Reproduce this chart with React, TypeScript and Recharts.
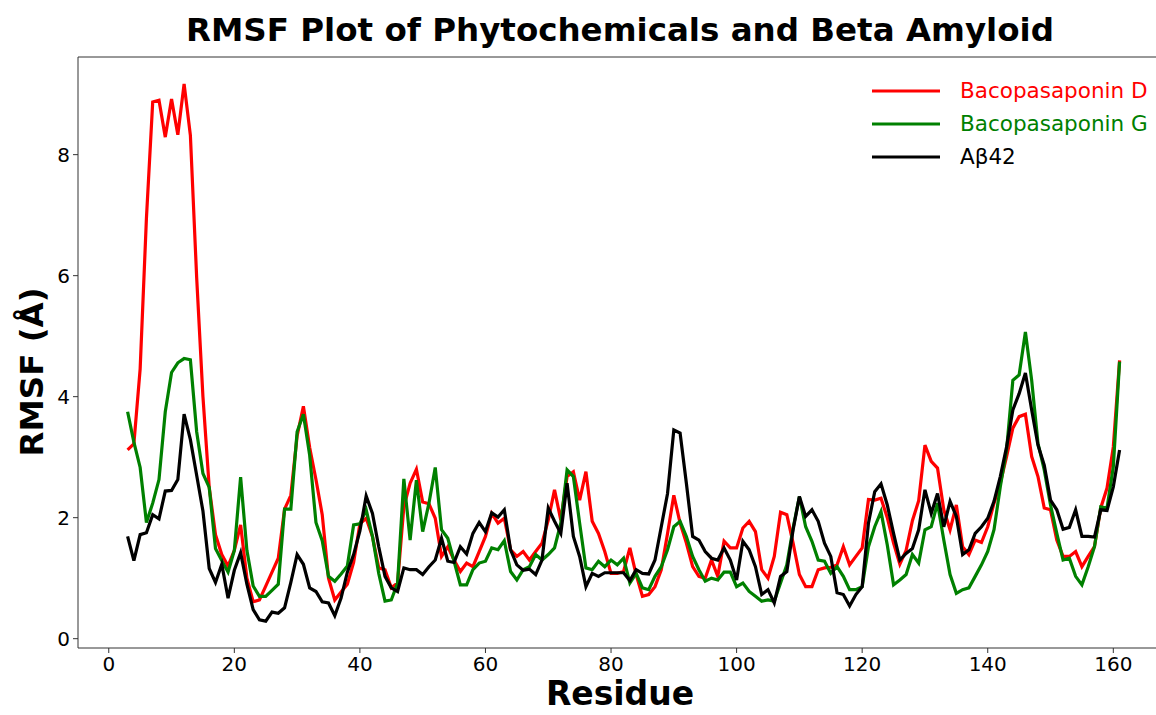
import { LineChart, Line, XAxis, YAxis } from 'recharts';

// residues 3..161
const residues = Array.from({ length: 159 }, (_, i) => 3 + i);

const bacopasaponinD = [
  3.12, 3.22, 4.46, 6.95, 8.87, 8.9, 8.29, 8.92, 8.33, 9.17,
  8.32, 5.97, 4.0, 2.5, 1.72, 1.39, 1.2, 1.46, 1.88, 1.0,
  0.61, 0.64, 0.87, 1.1, 1.33, 2.14, 2.37, 3.35, 3.84, 3.16,
  2.63, 2.05, 1.0, 0.64, 0.77, 0.9, 1.26, 1.9, 1.99, 1.69,
  1.17, 1.14, 0.84, 0.92, 2.18, 2.57, 2.8, 2.26, 2.23, 1.99,
  1.36, 1.52, 1.3, 1.11, 1.25, 1.19, 1.44, 1.69, 2.07, 1.91,
  1.99, 1.47, 1.36, 1.44, 1.3, 1.44, 1.58, 1.96, 2.46, 1.96,
  2.68, 2.76, 2.29, 2.76, 1.94, 1.74, 1.44, 1.08, 1.08, 1.11,
  1.5, 1.06, 0.7, 0.73, 0.86, 1.14, 1.74, 2.37, 1.91, 1.58,
  1.19, 1.03, 1.0, 1.3, 1.03, 1.61, 1.5, 1.5, 1.83, 1.94,
  1.77, 1.14, 1.0, 1.36, 2.09, 2.05, 1.58, 1.06, 0.86, 0.86,
  1.14, 1.17, 1.18, 1.22, 1.52, 1.22, 1.36, 1.5, 2.3, 2.29,
  2.32, 2.0, 1.58, 1.23, 1.46, 1.95, 2.28, 3.2, 2.93, 2.82,
  2.13, 1.8, 2.21, 1.52, 1.39, 1.63, 1.59, 1.85, 2.24, 2.57,
  3.01, 3.48, 3.67, 3.71, 3.01, 2.68, 2.16, 2.13, 1.63, 1.36,
  1.36, 1.44, 1.19, 1.36, 1.52, 2.16, 2.49, 3.17, 4.6,
];

const bacopasaponinG = [
  3.75, 3.25, 2.83, 1.92, 2.24, 2.63, 3.75, 4.4, 4.56, 4.63,
  4.61, 3.42, 2.73, 2.5, 1.49, 1.29, 1.1, 1.46, 2.67, 1.46,
  0.87, 0.7, 0.7, 0.8, 0.9, 2.14, 2.14, 3.42, 3.71, 3.03,
  1.92, 1.62, 1.03, 0.95, 1.07, 1.2, 1.88, 1.9, 2.13, 1.69,
  1.08, 0.62, 0.64, 0.92, 2.64, 1.63, 2.62, 1.77, 2.24, 2.83,
  1.8, 1.66, 1.28, 0.89, 0.89, 1.14, 1.25, 1.28, 1.5, 1.47,
  1.62, 1.11, 0.97, 1.14, 1.19, 1.39, 1.3, 1.39, 1.5, 1.91,
  2.79, 2.68, 1.91, 1.17, 1.14, 1.28, 1.19, 1.3, 1.22, 1.33,
  0.92, 1.08, 0.84, 0.81, 1.03, 1.19, 1.47, 1.85, 1.94, 1.69,
  1.36, 1.14, 0.95, 1.0, 0.97, 1.1, 1.1, 0.86, 0.92, 0.78,
  0.7, 0.62, 0.64, 0.62, 0.92, 1.22, 1.83, 2.35, 1.85, 1.61,
  1.3, 1.28, 1.08, 1.19, 1.03, 0.81, 0.81, 0.86, 1.52, 1.85,
  2.1, 1.55, 0.89, 0.97, 1.06, 1.39, 1.25, 1.8, 1.85, 2.24,
  1.63, 1.06, 0.75, 0.81, 0.84, 1.03, 1.22, 1.44, 1.8, 2.51,
  3.12, 4.27, 4.36, 5.07, 4.27, 3.23, 2.79, 2.21, 1.74, 1.3,
  1.33, 1.03, 0.89, 1.19, 1.52, 2.18, 2.16, 2.84, 4.58,
];

const abeta42 = [
  1.69, 1.29, 1.72, 1.75, 2.05, 1.98, 2.44, 2.45, 2.63, 3.71,
  3.29, 2.7, 2.11, 1.16, 0.93, 1.23, 0.67, 1.13, 1.42, 0.9,
  0.48, 0.31, 0.29, 0.44, 0.42, 0.51, 0.93, 1.39, 1.23, 0.84,
  0.78, 0.61, 0.59, 0.38, 0.67, 1.1, 1.39, 1.78, 2.36, 2.07,
  1.52, 1.03, 0.84, 0.78, 1.17, 1.14, 1.14, 1.06, 1.19, 1.3,
  1.66, 1.28, 1.26, 1.52, 1.4, 1.74, 1.92, 1.77, 2.08, 2.01,
  2.13, 1.47, 1.22, 1.13, 1.15, 1.06, 1.3, 2.16, 1.94, 1.74,
  2.57, 1.69, 1.36, 0.86, 1.08, 1.03, 1.09, 1.09, 1.09, 1.09,
  0.96, 1.14, 1.08, 1.07, 1.3, 1.85, 2.4, 3.45, 3.4, 2.57,
  1.69, 1.63, 1.44, 1.33, 1.3, 1.5, 1.3, 0.97, 1.61, 1.47,
  1.19, 0.73, 0.81, 0.59, 1.03, 1.11, 1.8, 2.35, 2.02, 2.13,
  1.94, 1.58, 1.36, 0.76, 0.73, 0.54, 0.73, 0.86, 1.91, 2.43,
  2.56, 2.21, 1.74, 1.3, 1.41, 1.49, 1.8, 2.46, 2.07, 2.4,
  1.85, 2.27, 2.02, 1.39, 1.47, 1.74, 1.85, 1.99, 2.27, 2.68,
  3.17, 3.78, 4.05, 4.39, 3.78, 3.2, 2.87, 2.29, 2.13, 1.81,
  1.84, 2.13, 1.69, 1.69, 1.68, 2.13, 2.12, 2.51, 3.12,
];

const xTicks = [0, 20, 40, 60, 80, 100, 120, 140, 160];
const yTicks = [0, 2, 4, 6, 8];

const series = [
  { key: 'bacD', name: 'Bacopasaponin D', color: '#ff0000', values: bacopasaponinD },
  { key: 'bacG', name: 'Bacopasaponin G', color: '#008000', values: bacopasaponinG },
  { key: 'abeta', name: 'Aβ42', color: '#000000', values: abeta42 },
];

const data = residues.map((r, i) => ({
  residue: r,
  bacD: bacopasaponinD[i],
  bacG: bacopasaponinG[i],
  abeta: abeta42[i],
}));

const FONT = '"DejaVu Sans", sans-serif';
const X_DOMAIN = [-4.9, 166.8];
const Y_DOMAIN = [-0.154, 9.614];

function LegendBox() {
  return (
    <div style={{ position: 'absolute', left: 870, top: 74, fontFamily: FONT, fontSize: 21.5 }}>
      {series.map(s => (
        <div key={s.key} style={{ display: 'flex', alignItems: 'center', height: 33 }}>
          <svg width={72} height={10} style={{ marginRight: 18 }}>
            <line x1={2} y1={5} x2={70} y2={5} stroke={s.color} strokeWidth={3} />
          </svg>
          <span style={{ color: s.color }}>{s.name}</span>
        </div>
      ))}
    </div>
  );
}

export default function App() {
  return (
    <div style={{ position: 'absolute', left: 0, top: 0, width: 1156, height: 715, background: '#fff', overflow: 'hidden' }}>
      <div
        style={{
          position: 'absolute', left: 0, width: 1240, top: 11, textAlign: 'center',
          fontFamily: FONT, fontWeight: 'bold', fontSize: 32.5, color: '#000',
        }}
      >
        RMSF Plot of Phytochemicals and Beta Amyloid
      </div>
      <LineChart width={1156} height={715} data={data} margin={{ top: 56, right: 0, bottom: 0, left: 0 }}>
        <XAxis
          dataKey="residue"
          type="number"
          domain={X_DOMAIN}
          allowDataOverflow
          ticks={xTicks}
          height={67}
          tick={{ fontSize: 20, fill: '#000', fontFamily: FONT }}
          tickSize={5}
          tickMargin={4}
          stroke="#333"
        />
        <XAxis xAxisId="top" orientation="top" dataKey="residue" type="number" domain={X_DOMAIN} height={1} tick={false} tickLine={false} stroke="#333" />
        <YAxis
          type="number"
          domain={Y_DOMAIN}
          allowDataOverflow
          ticks={yTicks}
          width={78}
          tick={{ fontSize: 20, fill: '#000', fontFamily: FONT }}
          tickSize={5}
          tickMargin={3}
          stroke="#333"
        />
        {series.map(s => (
          <Line
            key={s.key}
            dataKey={s.key}
            name={s.name}
            stroke={s.color}
            strokeWidth={3.2}
            dot={false}
            activeDot={false}
            isAnimationActive={false}
            strokeLinejoin="miter"
          />
        ))}
      </LineChart>
      <LegendBox />
      <div
        style={{
          position: 'absolute', left: 0, width: 1240, top: 674, textAlign: 'center',
          fontFamily: FONT, fontWeight: 'bold', fontSize: 33, color: '#000', lineHeight: '40px',
        }}
      >
        Residue
      </div>
      <div
        style={{
          position: 'absolute', left: 32, top: 372, width: 0, height: 0,
        }}
      >
        <div
          style={{
            position: 'absolute', left: -100, top: -20, width: 200, height: 40, lineHeight: '40px',
            textAlign: 'center', transform: 'rotate(-90deg)',
            fontFamily: FONT, fontWeight: 'bold', fontSize: 32.5, color: '#000', whiteSpace: 'nowrap',
          }}
        >
          RMSF (Å)
        </div>
      </div>
    </div>
  );
}
